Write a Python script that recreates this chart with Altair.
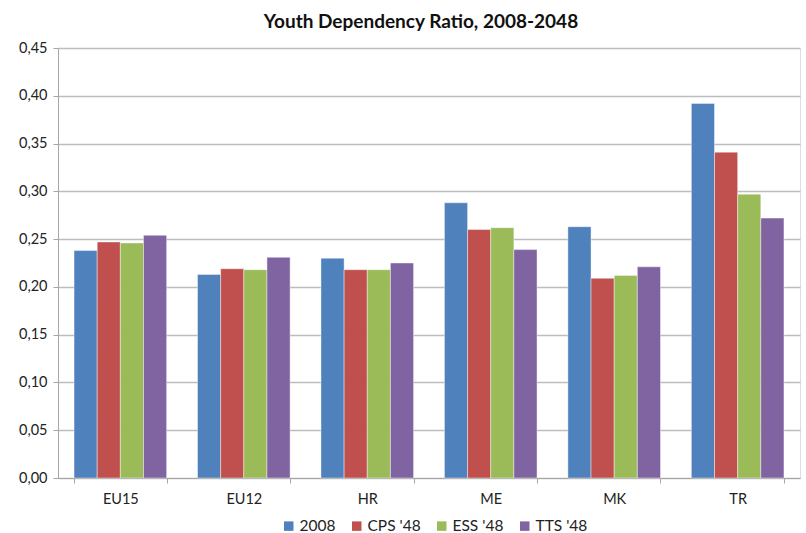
import altair as alt
import pandas as pd

# Youth dependency ratio by region, 2008 and three 2048 scenarios
regions = ["EU15", "EU12", "HR", "ME", "MK", "TR"]
series = ["2008", "CPS '48", "ESS '48", "TTS '48"]
colors = ["#4F81BD", "#C0504D", "#9BBB59", "#8064A2"]

v2008 = [0.238, 0.213, 0.230, 0.288, 0.263, 0.392]
cps48 = [0.247, 0.219, 0.218, 0.260, 0.209, 0.341]
ess48 = [0.246, 0.218, 0.218, 0.262, 0.212, 0.297]
tts48 = [0.254, 0.231, 0.225, 0.239, 0.221, 0.272]

rows = []
for name, vals in zip(series, [v2008, cps48, ess48, tts48]):
    for r, v in zip(regions, vals):
        rows.append({"region": r, "series": name, "value": v})
df = pd.DataFrame(rows)

FONT = "Lato"

bars = alt.Chart(df).mark_bar(stroke="white", strokeWidth=0.6, strokeOpacity=0.7).encode(
    x=alt.X(
        "region:N",
        sort=regions,
        scale=alt.Scale(paddingInner=0.25, paddingOuter=0.13),
        axis=alt.Axis(
            title=None,
            labelAngle=0,
            labelFont=FONT,
            labelFontSize=14.5,
            labelColor="#222222",
            labelPadding=9,
            tickBand="extent",
            tickSize=5,
            tickColor="#A6A6A6",
            domainColor="#A6A6A6",
            domainWidth=1,
            grid=False,
        ),
    ),
    xOffset=alt.XOffset("series:N", sort=series),
    y=alt.Y(
        "value:Q",
        scale=alt.Scale(domain=[0, 0.45], nice=False),
        axis=alt.Axis(
            title=None,
            values=[i * 0.05 for i in range(10)],
            labelExpr="replace(format(datum.value, '.2f'), '.', ',')",
            labelFont=FONT,
            labelFontSize=14.5,
            labelColor="#222222",
            labelPadding=6,
            tickSize=5,
            tickColor="#A6A6A6",
            domainColor="#A6A6A6",
            gridColor="#BDBDBD",
            gridWidth=1.3,
        ),
    ),
    color=alt.Color(
        "series:N",
        sort=series,
        scale=alt.Scale(domain=series, range=colors),
        legend=alt.Legend(
            title=None,
            orient="none",
            direction="horizontal",
            legendX=223,
            legendY=470,
            symbolType="square",
            symbolSize=90,
            symbolStrokeWidth=0,
            labelFont=FONT,
            labelFontSize=15.5,
            labelColor="#222222",
            labelOffset=3,
            columnPadding=13,
        ),
    ),
)

chart = bars.properties(
    width=742,
    height=430,
    autosize=alt.AutoSizeParams(type="none"),
    padding={"left": 58, "top": 48, "right": 6, "bottom": 55},
    title=alt.TitleParams(
        "Youth Dependency Ratio, 2008-2048",
        font=FONT,
        fontSize=19,
        fontWeight="bold",
        color="#111111",
        anchor="middle",
        dx=-8,
        offset=8,
    ),
).configure_view(stroke=None).configure(background="white")

chart.save("out.html", embed_options={"renderer": "svg", "actions": False})
